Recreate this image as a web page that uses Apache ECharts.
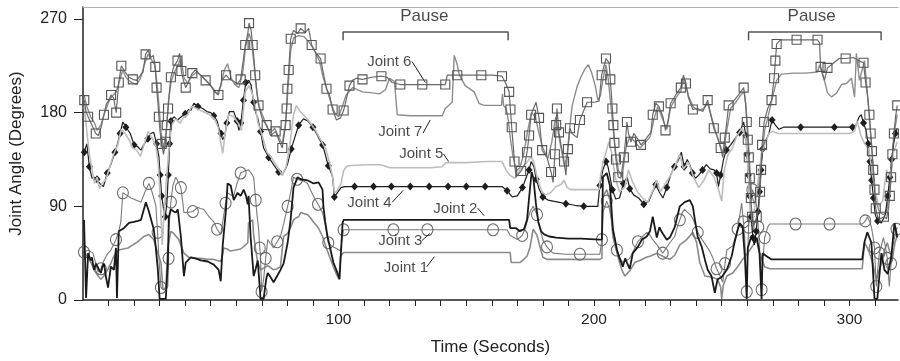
<!DOCTYPE html>
<html>
<head>
<meta charset="utf-8">
<script src="https://cdn.jsdelivr.net/npm/echarts@6/dist/echarts.min.js"></script>
<style>
    html, body { margin: 0; padding: 0; background: #fff; }
    #chart { width: 900px; height: 361px; }
</style>
</head>
<body>
<div id="chart"></div>
<script>
// joint angles over time, [seconds, degrees]
var timeTicks = [10, 20, 30, 40, 50, 60, 70, 80, 90, 100, 110, 120, 130, 140, 150, 160,
    170, 180, 190, 200, 210, 220, 230, 240, 250, 260, 270, 280, 290, 300, 310];
var timeLabels = [100, 200, 300];
var angleTicks = [0, 90, 180, 270];

var joint1 = [[0.4,48],[1.5,42],[3.1,36],[4.5,28],[5.9,23],[7,20],[8.5,24],[9.8,30],[11,36],[12.1,42],[14,48],[15.8,49],[17.6,50],[19.5,53],[21.5,56],[23.8,61],[25.8,63],[27.7,58],[29.3,45],[30.5,36],[31.3,10],[32.4,12],[33.2,51],[34.4,66],[35.5,64],[37.5,58],[39.5,45],[41.4,41],[43.8,40],[46.1,40],[48.7,39],[51.2,39],[53.9,37],[54.7,44],[55,50],[56.4,49],[57.8,47],[59.8,48],[61.7,49],[63.2,52],[64.5,55],[64.8,74],[66.4,77],[66.8,62],[67.6,48],[68.4,36],[69.5,29],[71,31],[72.3,33],[73.5,31],[74.6,29],[76,30],[77.3,32],[78.5,61],[80.1,64],[81.3,70],[82.4,77],[83.5,79],[84.4,80],[85.2,84],[86.5,83],[87.9,82],[89,79],[90.2,75],[91.2,72],[92.2,69],[93.75,61],[94.7,54],[95.7,47],[96.9,39],[98,32],[98.8,27],[99.6,23],[100.2,20],[100.8,42],[102,45.6],[110,45.6],[120,45.6],[130,45.6],[140,45.6],[150,45.6],[160,45.6],[167.2,45.6],[167.6,36],[171,36],[172.5,39],[173.8,42],[175,51],[176.2,68],[177,65],[177.7,62],[178.9,51],[180,41],[181.6,39],[188,39],[194.5,39],[202.3,39],[203.1,40],[203.5,99],[205,106],[205.7,100],[206.25,96],[207.4,61],[209,45],[210,36],[210.9,29],[212.1,23],[214,28],[216,36],[218.75,39],[220.5,41],[221.9,42],[224.6,45],[226.9,42],[229.7,39],[231.6,43],[233.6,53],[236.3,58],[238.7,65],[240.2,55],[241.4,36],[243.4,23],[246,22],[248.4,20],[249.6,12],[250,1],[250.6,14],[252,23],[254.3,26],[256.25,32],[258.2,39],[259.8,44],[261,48],[263.7,58],[264.8,45],[266.8,32],[268.75,30],[271.5,30],[280,30],[290,30],[300,30],[305,30],[305.9,55],[307,50],[308,44],[309,36],[310.5,20],[311.5,28],[312.5,35],[313.7,48],[314.8,55],[315.8,46],[316.8,40],[317.8,55],[318.75,62]];

var joint2 = [[0.4,77],[0.8,40],[1.2,2],[2,45],[3,38],[3.5,41],[4.3,29],[5.1,35],[5.9,31],[6.5,28],[7,26],[7.6,32],[8.2,35],[9,22],[9.8,12],[10.9,32],[12.1,29],[12.9,50],[13.3,2],[14,66],[16,69],[18,74],[19.9,75],[21.5,76],[22.7,77],[24.6,94],[25.8,85],[26.8,76],[27.7,68],[28.5,50],[29.3,29],[30,1],[32.4,1],[32.8,18],[33.2,36],[33.6,80],[34.4,87],[35.5,85],[36.3,84],[37.1,87],[38.3,61],[39.5,23],[40.2,36],[42.2,41],[44,40],[46.1,38],[48.8,37],[51.2,34],[53.1,29],[53.9,18],[54.7,53],[55.9,85],[56.6,112],[57.8,110],[59,96],[60.5,103],[61.7,100],[62.9,106],[63.8,100],[64.5,92],[64.8,100],[65.6,61],[66.8,23],[67.6,30],[68.4,38],[69.5,1],[70.7,1],[71.7,20],[72.3,26],[73.4,22],[74.6,17],[76.2,24],[77.3,29],[78.5,35],[80.1,55],[81.25,77],[82.4,108],[84,118],[85.2,116],[87.9,115],[90.2,112],[92.2,113],[93.75,106],[94.1,90],[94.8,75],[95.7,61],[96.9,48],[98,36],[99.6,26],[100.4,20],[101.6,74],[102,77],[110,77],[120,77],[130,77],[140,77],[150,77],[160,77],[166.8,77],[167.2,69],[169.5,69],[171,66],[172.6,68],[173.8,77],[174.6,98],[175.6,123],[176.3,117],[177.3,92],[178.2,75],[179.3,66],[180.5,63],[182.5,61],[185.2,60],[190,59],[195,59],[202.3,58],[203.1,58],[203.5,118],[205,122],[206.25,110],[207.4,68],[209,48],[210.2,39],[211.3,32],[212.2,40],[212.9,36],[214,30],[215.2,45],[217.2,51],[218.75,58],[220.7,61],[221.9,66],[223,80],[224.6,60],[225.6,70],[226.6,65],[228.5,58],[229.7,60],[231.6,70],[232.6,80],[233.6,90],[235.5,94],[237.5,96],[238.7,90],[239.5,77],[240.6,61],[242.2,51],[243.4,39],[244.5,29],[246,23],[247.3,7],[248.4,20],[250,22],[252,29],[253.9,42],[255,55],[256,65],[257,74],[258.2,70],[259.1,40],[259.8,1],[260.2,50],[261.7,62],[262.7,55],[263.7,60],[264.8,45],[265.6,1],[266,45],[267.6,42],[269.5,39],[280,39],[290,39],[300,39],[305,39],[305.9,56],[307,65],[308.6,55],[309.8,1],[310.9,1],[312.5,45],[313.7,29],[315,25],[316.4,42],[317.6,74],[318.75,60]];

var joint3 = [[0.4,46],[2,48],[3.9,45],[5,35],[5.9,27],[7,30],[8.2,38],[9.5,44],[10.9,48],[12.9,58],[14,66],[14.8,75],[15.6,103],[17,101],[18.75,98],[20.7,96],[22.7,94],[24.3,104],[25.8,112],[27,104],[28.5,91],[29.2,65],[29.7,41],[30.5,12],[31.5,10],[32.4,10],[33.2,13],[33.5,40],[33.6,68],[34.4,94],[35.2,110],[36.3,118],[37.4,113],[38.3,108],[39,95],[39.5,84],[41,84],[43,85],[44.9,89],[46,88],[47.3,87],[49.3,80],[51.2,75],[52.5,68],[53.9,63],[55,80],[55.8,93],[56.6,103],[57.8,101],[59,100],[60.3,112],[61.7,122],[63.3,124],[64.8,125],[65.8,122],[66.8,118],[67.6,96],[68.1,82],[68.75,68],[69.2,50],[69.5,41],[69.9,8],[70.7,20],[71.5,40],[72.3,58],[73.4,54],[74.6,50],[76,56],[77.3,61],[78.7,75],[80.1,90],[81.25,103],[82.4,118],[83.8,116],[85.2,115],[86.5,114],[87.9,112],[89,106],[90.2,100],[92,92],[93.75,84],[95,70],[96,55],[97.3,52],[98.8,50],[100.8,47],[101.5,60],[102,67.5],[107.8,67.5],[121.5,67.5],[134.8,67.5],[147.7,67.5],[160.5,67.5],[166,67.5],[167.2,62],[168.8,60],[170,58],[171.9,62],[173,68],[173.8,75],[175,85],[176.2,90],[177.7,82],[178.9,68],[180,58],[181.6,51],[183,47],[184,45],[189,44],[194.5,44],[199,44],[202.3,44],[203.1,58],[203.5,84],[205,95],[206,88],[207.4,70],[209,48],[210.2,40],[211.3,36],[212.7,38],[214,40],[215.6,48],[217.2,56],[219,61],[220.7,65],[222,62],[223,58],[225,52],[226.9,45],[228.3,50],[229.7,55],[231.6,61],[232.6,70],[233.6,77],[234.6,84],[235.5,87],[236.7,84],[237.7,82],[238.7,78],[239.7,72],[240.6,65],[242.6,57],[244,52],[245.3,47],[246.6,40],[248,30],[249.2,24],[250.4,17],[251.3,35],[252,48],[254.3,52],[256.25,68],[257.1,82],[257.8,93],[258.5,75],[259,60],[259.8,8],[260.5,70],[261.3,90],[262,106],[263,100],[263.7,90],[264.3,70],[264.8,50],[265.6,10],[266.2,40],[266.8,60],[268,70],[268.75,73],[278.9,73],[292.2,73],[305,73],[306.2,76],[307,80],[308,75],[308.6,70],[309.3,60],[309.8,50],[310.5,13],[311.1,30],[311.7,45],[313.3,60],[314.2,50],[314.8,40],[315.6,13],[316.3,35],[316.8,50],[318.4,68],[318.8,70]];

var joint4 = [[0.5,142],[1.5,150],[2.5,128],[3.5,117],[4.3,118],[5.5,116],[6.5,112],[8,109],[9.5,122],[11,131],[12.5,142],[13.5,150],[14.5,160],[15.6,171],[16.8,166],[18.5,160],[20,149],[21.5,147],[22.7,144],[24,150],[25.4,155],[26.5,160],[27.7,161],[28.8,150],[29.7,138],[30.2,120],[30.8,100],[31.5,88],[32.2,80],[32.8,92],[33.4,120],[33.9,150],[34.4,172],[35.6,176],[37,173],[38.5,176],[40,179],[41.3,183],[42.2,182],[43.4,189],[45,186],[46.8,184],[48.5,181],[50,180],[51.2,177],[52.5,172],[53.1,166],[54,160],[54.7,154],[55.5,158],[56.3,170],[57.3,181],[59,181],[60.3,172],[61,163],[61.8,170],[62.8,192],[63.7,209],[65,211],[65.8,206],[66.8,190],[67.6,180],[68.4,175],[69.5,162],[70.7,146],[72.7,137],[74.6,130],[76.6,123],[78,120],[80,130],[81.5,145],[83,157],[84.4,168],[86.3,174],[88,172],[90,166],[92,157],[93.8,149],[94.8,140],[96,129],[97,123],[97.7,118],[98.4,99],[99.5,103],[101,108],[102.5,109],[106.3,109],[113.7,109],[120.7,109],[128.1,109],[135.5,109],[142.9,109],[150,109],[157.4,109],[164,109],[166,105],[168,99],[170,100],[172,108],[173.5,118],[174.6,125],[175.4,133],[176.5,128],[177.4,116],[178.5,107],[180,99],[182,96],[184,95],[186,94],[189,92.5],[192.5,91],[196,90],[199,90],[201.5,90],[202.3,110],[203.5,125],[204.7,133],[205.5,128],[206.3,118],[207.2,106],[208.5,97],[210,98],[211.5,112],[213,118],[214,107],[215.5,101],[217.5,98],[219.5,92],[221.5,95],[223,104],[224.2,111],[225.5,104],[227,98],[228.5,108],[230,120],[231.5,128],[233,134],[234.2,142],[235.3,128],[236.5,135],[237.5,130],[238.5,122],[239.7,117],[241,120],[242.5,125],[244,130],[245.5,126],[247,125],[248,122],[248.7,109],[249.6,120],[250.7,135],[251.8,144],[253.5,149],[255.5,156],[257,161],[258.6,171],[259.4,158],[259.9,140],[260.4,120],[260.9,100],[261.5,80],[262.2,60],[262.8,53],[263.5,66],[264.2,85],[264.8,104],[265.4,125],[266,145],[267,152],[268.5,160],[269.7,173],[271,168],[272.4,164],[274.2,166],[280.9,166],[287.5,166],[294.1,166],[301.2,166],[302.5,168],[303.8,176],[304.6,178],[305.5,170],[306.5,163],[307.3,150],[308,133],[308.7,115],[309.4,98],[310.1,82],[311,76],[312.5,74],[314,82],[315,100],[315.8,118],[316.5,135],[317.3,150],[318,160],[318.7,165]];

var joint5 = [[0.5,186],[1,176],[1.5,162],[2.5,140],[3.5,126],[4.5,112],[5.5,118],[6.5,107],[7.5,112],[9,116],[10.5,128],[12,140],[13.5,148],[15,164],[16.5,160],[18,154],[19.5,146],[21,144],[22.5,138],[24,150],[25.5,162],[27,156],[28.5,148],[29.5,130],[30.3,95],[31,53],[31.6,78],[32.5,110],[33.5,142],[34.7,168],[36.3,174],[38,170],[39.5,176],[41,178],[42.5,186],[44.5,184],[47,181],[49.5,178],[51.5,174],[53,165],[54,150],[54.7,141],[55.5,158],[57,178],[59,176],[61,169],[62,163],[63.5,200],[65,206],[66.3,198],[67.5,185],[68.5,170],[70,159],[72,142],[74,136],[76,128],[78,120],[79.5,128],[81,150],[82.4,178],[83.5,187],[85,181],[87,176],[89,170],[91,163],[93,154],[95,145],[96.5,132],[97.7,118],[98.4,103],[99.5,105],[101,112],[102,124],[103,128],[104,129],[110,130],[116,130],[118,129],[120,127],[128,127],[136,127],[140.5,128],[142,132],[150,132],[158,133],[164,133],[165.5,125],[167,120],[169,117],[171,125],[173,130],[174.6,135],[175.4,138],[176.5,132],[178,115],[179.7,104],[181,101],[183,103],[185.2,109],[187.1,111],[188.3,115],[189.5,108],[191,106],[195,106],[199,106],[202,106],[202.6,120],[203.5,132],[204.7,142],[205.9,152],[207,140],[208.5,116],[210,104],[212,108],[213.5,125],[215,114],[217,104],[219,98],[221,94],[223,105],[224.5,115],[226,104],[228,112],[230,120],[232,130],[233.5,140],[235,126],[237,132],[239,118],[241,108],[243,115],[245,125],[247,118],[248.5,108],[250,95],[251,125],[252.5,140],[254,145],[256,158],[258,165],[259.5,155],[260.3,125],[261,95],[262,75],[263,90],[264,110],[265.5,140],[267,150],[268.5,160],[270,162],[272,160],[280,160],[290,160],[300,160],[302,162],[303,172],[304.5,158],[306,150],[307.5,145],[308.5,130],[310,105],[311.5,90],[313,95],[314.5,125],[316,118],[317,140],[318.7,152]];

var joint6 = [[0.5,192],[1.2,181],[2,176],[3.5,168],[5,160],[6,158],[7,165],[8.2,178],[9,187],[10,192],[11,197],[12,194],[13,180],[14,209],[15,225],[16.5,219],[18,214],[19.5,212],[21,211],[22.5,216],[23.5,219],[24.5,236],[25.5,240],[26.5,233],[27.5,235],[28.3,224],[28.8,204],[29.3,190],[29.7,176],[30.2,161],[30.8,150],[31.5,140],[32.3,152],[32.8,168],[33.3,184],[33.8,199],[34.4,214],[35.5,224],[37,230],[37.8,237],[38.5,220],[39.3,211],[40.2,204],[41.5,211],[42.8,218],[44,221],[46,216],[48,211],[50,206],[51.5,200],[53,197],[54.3,211],[56,216],[57.5,212],[59,210],[60.5,208],[61.7,212],[62.5,226],[63.5,245],[64.5,256],[65,266],[65.8,259],[66.4,245],[67,230],[67.4,216],[68,202],[68.7,187],[70.3,173],[71.9,168],[73.4,158],[75.4,162],[76.6,154],[78,146],[79.3,168],[79.7,184],[80,203],[80.5,221],[80.9,236],[81.3,251],[82.4,259],[84,256],[85.2,261],[87,257],[88.3,261],[89.5,245],[91,238],[93,232],[94,219],[95.3,203],[96.5,197],[97.7,183],[99.2,173],[100.8,175],[102,182],[103,192],[104.3,206],[105.5,211],[107,213],[109.4,212],[113,214],[116.8,215],[119,214],[121,209],[124.2,207],[128.5,207],[132.8,207],[137.5,207],[141.8,207],[142.6,216],[146.5,216],[151,216],[155.9,216],[160,216],[164,215],[165.5,208],[166.8,200],[167.3,183],[167.8,166],[168.3,151],[168.9,133],[169.5,118],[171.5,124],[173,131],[173.8,142],[174.6,158],[175.4,178],[177.3,190],[178.5,175],[179.1,160],[179.7,144],[181.6,137],[183.2,123],[184,113],[184.7,140],[185.2,168],[185.5,184],[186.3,161],[187.1,149],[188.3,133],[189,120],[189.8,145],[190.6,165],[191.4,160],[193.4,156],[194.5,173],[196,182],[197.3,190],[200,190],[202,191],[203,216],[204.7,232],[205.9,228],[206.4,212],[206.8,198],[207.2,184],[207.6,168],[208,151],[208.6,135],[209.5,118],[210.5,117],[211.7,137],[212.3,152],[212.9,171],[213.5,160],[214.5,152],[215.6,160],[217,155],[218.4,149],[219.5,152],[221,157],[222.3,161],[223,178],[224.2,189],[225.4,186],[227,176],[228,163],[229,172],[230,189],[232,197],[234,204],[235,216],[236,208],[237,194],[238.7,183],[240.6,184],[242.6,181],[244.5,192],[245.7,178],[246.9,165],[248.4,156],[249.6,146],[250.4,137],[251.2,156],[252,171],[252.7,187],[254.3,190],[256.6,197],[258.6,204],[259.3,190],[259.8,171],[260.2,154],[260.6,137],[261,117],[261.4,98],[261.9,80],[262.7,72],[263.7,80],[264.5,88],[265,104],[265.4,125],[265.8,149],[266.6,171],[268,184],[269.5,192],[270.5,213],[271,230],[271.5,246],[273,250],[276,250],[279.3,250],[283.5,250],[287.5,250],[288.3,247],[288.7,224],[290.2,211],[291.4,223],[293.4,227],[296,232],[298.5,232],[301.6,233],[303.5,230],[305.5,228],[306.3,209],[307.2,194],[307.8,178],[308.3,160],[308.8,143],[309.3,125],[309.8,106],[310.3,88],[311,80],[312.2,78],[313.5,80],[314.5,78],[315.3,88],[315.8,100],[316.3,118],[316.8,140],[317.4,160],[318,175],[318.7,187]];

var joint7 = [[0.5,196],[1.5,186],[3,176],[4.5,170],[5.5,163],[7,168],[8.5,180],[10,190],[11.5,196],[13,200],[14.5,212],[15.5,221],[17,213],[19,209],[21,207],[22.5,213],[24,226],[25.5,236],[26.8,231],[28,226],[29,208],[29.8,185],[30.6,160],[31.5,146],[32.5,160],[33.5,192],[34.5,210],[35.8,219],[37.3,226],[38.3,233],[39.5,214],[41,208],[42.5,215],[44.5,219],[47,214],[49,209],[51,203],[52.5,198],[54,206],[55.3,221],[56.6,227],[58,213],[59.5,207],[61,204],[62.5,218],[63.7,244],[65,256],[66,248],[67,225],[68,200],[69,186],[70.5,176],[72,166],[73.5,161],[75,165],[76.5,157],[78,150],[79.3,171],[80.3,205],[81.3,240],[82.5,252],[84.5,254],[86.5,253],[88.5,248],[90.5,240],[92.5,230],[94,214],[95.5,202],[97,190],[98.5,180],[100,176],[101.5,186],[103,197],[105.5,204],[109.4,200],[113.3,199],[116,198],[118.4,202],[119.9,213],[121.9,210],[123,178],[128,177],[134,177],[140.6,177],[141.8,184],[144.5,190],[145.3,235],[146.5,226],[147.3,216],[149.6,206],[153.1,200],[155,189],[157,187],[161,187],[163.8,187],[164.2,198],[164.6,187],[165.6,184],[166.5,172],[167.3,155],[168.3,138],[169.5,124],[171,127],[172.5,140],[174,162],[175.5,180],[177,176],[178.5,160],[180,146],[182,136],[183.5,152],[185,176],[186.5,154],[188.5,128],[189.5,140],[190.6,168],[191.5,187],[193.4,205],[195,215],[196.5,222],[197.8,226],[199,219],[200.5,206],[201.5,192],[202.5,196],[203.5,212],[204.7,226],[205.5,214],[206.5,190],[207.5,165],[208.5,142],[209.5,125],[211,118],[212.5,146],[214,157],[216,152],[218,146],[220,151],[222,157],[223.5,174],[225,186],[227,173],[228.5,164],[230,185],[232,194],[234,201],[235.3,213],[237,196],[239,185],[241,182],[243,184],[244.5,189],[246,176],[247.5,163],[249,151],[250.5,141],[252,163],[253.5,184],[255.5,190],[257.5,197],[258.8,200],[259.5,186],[260.3,160],[261,128],[261.8,100],[262.8,92],[264,102],[265.3,130],[266.8,163],[268.5,180],[270,196],[271.5,211],[273.4,217],[278,218],[283,218],[287.5,219],[288.3,226],[290.2,211],[291.4,199],[293,195],[295,199],[296.9,207],[298.8,208],[300.8,213],[302,195],[302.7,237],[303.9,211],[305.9,230],[306.6,211],[307.3,190],[308,168],[308.8,145],[309.6,118],[310.5,95],[311.5,86],[313,82],[314.5,84],[315.5,100],[316.5,128],[317.5,160],[318.7,178]];

// annotations
var pauseBracket1 = [[101.8,249.6],[101.8,257.5],[166.4,257.5],[166.4,249.6]];
var pauseBracket2 = [[260.5,249.6],[260.5,257.5],[312.4,257.5],[312.4,249.6]];
var noteNames = ['Pause', 'Pause', 'Joint 6', 'Joint 7', 'Joint 5', 'Joint 4', 'Joint 2', 'Joint 3', 'Joint 1'];
var notePos = [[133.6,272.5],[285.2,272.5],[119.9,228.5],[124.2,161.5],[132.4,140.4],[112.1,93.5],[145.7,87.8],[124.2,57.2],[126.4,31.3]];
var noteSizes = [17, 17, 15, 15, 15, 15, 15, 15, 15];
var leaders = [
    [[128.8,229],[134,209]],
    [[133.1,160.3],[135.9,173]],
    [[141.1,140.4],[143.1,133]],
    [[121,93.8],[125.3,105.3]],
    [[154.4,88.5],[157,81]],
    [[132.7,57.2],[135.7,63.9]],
    [[134.6,32],[137.5,41.5]]
];

var FONT = '"Liberation Sans", Arial, Helvetica, sans-serif';
var chart = echarts.init(document.getElementById('chart'));

function plain(id, data, color, width, z) {
    return {
        id: id, type: 'line', data: data, z: z, silent: true,
        symbol: 'none', showSymbol: false,
        lineStyle: { color: color, width: width },
        itemStyle: { color: color }
    };
}

var option = {
    animation: false,
    backgroundColor: '#fff',
    grid: { left: 82, right: 2, top: 7, bottom: 60 },
    xAxis: [{
        type: 'value', min: 0, max: 319,
        name: 'Time (Seconds)', nameLocation: 'middle', nameGap: 39,
        nameTextStyle: { fontFamily: FONT, fontSize: 17, color: '#222' },
        axisLine: { onZero: false, lineStyle: { color: '#222', width: 1.5 } },
        axisTick: { show: true, length: 6, customValues: timeTicks, lineStyle: { color: '#222', width: 1 } },
        axisLabel: { customValues: timeLabels, margin: 12, fontFamily: FONT, fontSize: 15.5, color: '#222' },
        splitLine: { show: false }
    }, {
        type: 'value', position: 'top', min: 0, max: 319,
        axisLine: { show: true, onZero: false, lineStyle: { color: '#b0b0b0', width: 1 } },
        axisTick: { show: false }, axisLabel: { show: false }, splitLine: { show: false }
    }],
    yAxis: {
        type: 'value', min: 0, max: 281.5,
        name: 'Joint Angle (Degrees)', nameLocation: 'middle', nameGap: 58,
        nameTextStyle: { fontFamily: FONT, fontSize: 17, color: '#222' },
        axisLine: { show: true, onZero: false, lineStyle: { color: '#222', width: 1.5 } },
        axisTick: { show: true, length: 9, customValues: angleTicks, lineStyle: { color: '#222', width: 1 } },
        axisLabel: { customValues: angleTicks, margin: 16, fontFamily: FONT, fontSize: 16, color: '#222' },
        splitLine: { show: false }
    },
    series: [
        plain('j7', joint7, '#8c8c8c', 1.4, 1),
        plain('j1', joint1, '#8a8a8a', 1.6, 2),
        plain('j3', joint3, '#7a7a7a', 1.1, 3),
        plain('j4', joint4, '#1e1e1e', 1.2, 4),
        plain('j5', joint5, '#bdbdbd', 1.6, 5),
        plain('j6', joint6, '#6a6a6a', 1.2, 6),
        plain('j2', joint2, '#1a1a1a', 1.8, 7),
        plain('p1', pauseBracket1, '#555', 1.5, 8),
        plain('p2', pauseBracket2, '#555', 1.5, 8),
        {
            id: 'notes', type: 'scatter', z: 9, silent: true,
            symbolSize: 0,
            data: noteNames.map(function (n, i) {
                return {
                    name: n, value: notePos[i],
                    label: { show: true, position: 'inside', formatter: '{b}', fontFamily: FONT, fontSize: noteSizes[i], color: '#1a1a1a' }
                };
            }),
            markLine: {
                silent: true, symbol: ['none', 'none'], animation: false,
                label: { show: false },
                lineStyle: { color: '#222', width: 1, type: 'solid' },
                emphasis: { disabled: true },
                data: leaders.map(function (l) {
                    return [{ coord: l[0] }, { coord: l[1] }];
                })
            }
        }
    ]
};
chart.setOption(option);

// put markers on vertices spaced roughly evenly along the drawn path
function withMarks(data, gap) {
    var acc = gap, prev = null;
    return data.map(function (d) {
        var p = chart.convertToPixel({ gridIndex: 0 }, d);
        if (prev) {
            acc += Math.sqrt((p[0] - prev[0]) * (p[0] - prev[0]) + (p[1] - prev[1]) * (p[1] - prev[1]));
        }
        prev = p;
        if (acc >= gap) {
            acc = 0;
            return { value: d };
        }
        return { value: d, symbol: 'none' };
    });
}

chart.setOption({
    series: [{
        id: 'j6', data: withMarks(joint6, 16), symbol: 'rect', symbolSize: 9, showSymbol: true,
        itemStyle: { color: 'rgba(255,255,255,0)', borderColor: '#555', borderWidth: 1.1 }
    }, {
        id: 'j3', data: withMarks(joint3, 33), symbol: 'circle', symbolSize: [11, 12], showSymbol: true,
        itemStyle: { color: 'rgba(255,255,255,0)', borderColor: '#6a6a6a', borderWidth: 1.1 }
    }, {
        id: 'j4', data: withMarks(joint4, 17), symbol: 'diamond', symbolSize: [7, 8], showSymbol: true,
        itemStyle: { color: '#1e1e1e', borderWidth: 0 }
    }]
});
</script>
</body>
</html>
